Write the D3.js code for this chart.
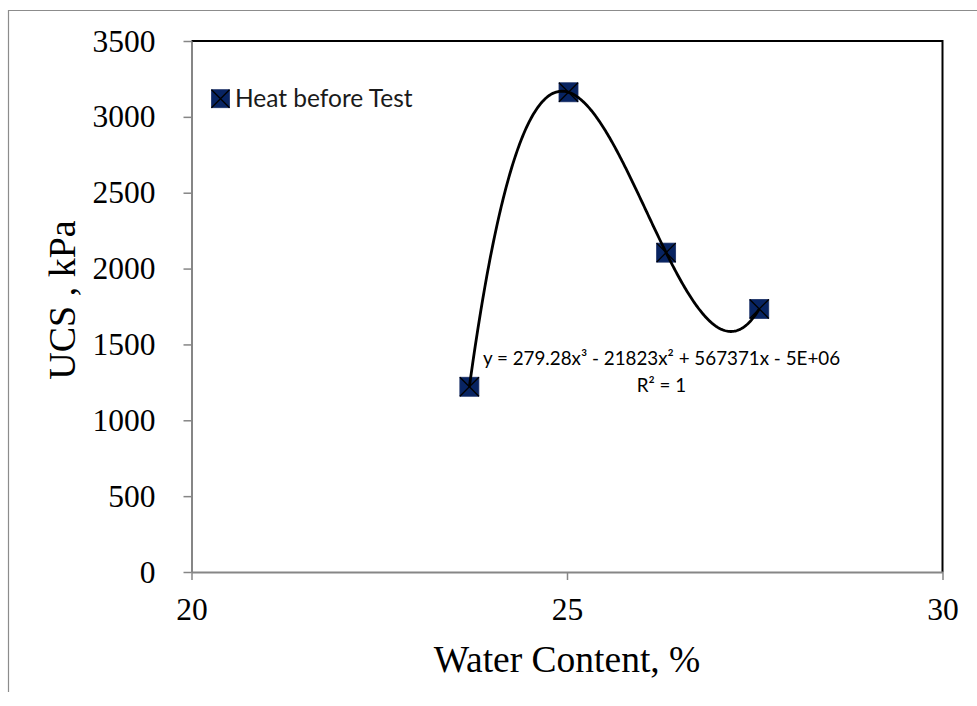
<!DOCTYPE html>
<html>
<head>
<meta charset="utf-8">
<script src="https://cdn.jsdelivr.net/npm/d3@7"></script>
<style>
  html, body { margin: 0; padding: 0; background: #fff; }
  svg { display: block; }
</style>
</head>
<body>
<svg id="chart" width="977" height="706"></svg>
<script>
// Water content (%) and unconfined compressive strength (kPa)
const waterContent = [23.70, 25.02, 26.32, 27.56];
const ucsValues    = [1221, 3162, 2105, 1734];
const seriesName   = "Heat before Test";

const xTicks = [20, 25, 30];
const yTicks = [0, 500, 1000, 1500, 2000, 2500, 3000, 3500];

const xTitle = "Water Content, %";
const yTitle = "UCS , kPa";
const equationText = "y = 279.28x³ - 21823x² + 567371x - 5E+06";
const rSquaredText = "R² = 1";

const svg = d3.select("#chart");
const W = 977, H = 706;

// plot area
const plotLeft = 191.5, plotRight = 942.5, plotTop = 41, plotBottom = 572;

const x = d3.scaleLinear().domain([20, 30]).range([plotLeft, plotRight]);
const y = d3.scaleLinear().domain([0, 3500]).range([plotBottom, plotTop]);

// outer chart frame (left and top edges visible)
svg.append("path")
  .attr("d", `M8.5,692 L8.5,10.5 L${W},10.5`)
  .attr("fill", "none")
  .attr("stroke", "#8c8c8c")
  .attr("stroke-width", 1.2);

// plot area border: top and right in black
svg.append("path")
  .attr("d", `M${plotLeft},${plotTop} L${plotRight},${plotTop} L${plotRight},${plotBottom}`)
  .attr("fill", "none")
  .attr("stroke", "#000")
  .attr("stroke-width", 2);

const serif = "'Liberation Serif', 'Times New Roman', serif";
const sans = "Lato, 'Open Sans', sans-serif";

// y axis
const yAxis = svg.append("g")
  .attr("transform", `translate(${plotLeft},0)`)
  .call(d3.axisLeft(y).tickValues(yTicks).tickSize(8).tickSizeOuter(0).tickPadding(28).tickFormat(d3.format("d")));

// x axis
const xAxis = svg.append("g")
  .attr("transform", `translate(0,${plotBottom})`)
  .call(d3.axisBottom(x).tickValues(xTicks).tickSize(8).tickSizeOuter(0).tickPadding(18).tickFormat(d3.format("d")));

[yAxis, xAxis].forEach(g => {
  g.select(".domain").attr("stroke", "#868686").attr("stroke-width", 2);
  g.selectAll(".tick line").attr("stroke", "#868686").attr("stroke-width", 1.5);
  g.selectAll(".tick text")
    .attr("fill", "#000")
    .style("font-family", serif)
    .style("font-size", "31.5px");
});

// axis titles
svg.append("text")
  .attr("x", (plotLeft + plotRight) / 2)
  .attr("y", 672)
  .attr("text-anchor", "middle")
  .style("font-family", serif)
  .style("font-size", "37.5px")
  .text(xTitle);

svg.append("text")
  .attr("transform", `translate(75,300) rotate(-90)`)
  .attr("text-anchor", "middle")
  .style("font-family", serif)
  .style("font-size", "38px")
  .text(yTitle);

// cubic polynomial trendline (least squares)
function polyfit(xs, ys, degree) {
  const mx = d3.mean(xs);
  const n = degree + 1;
  const A = Array.from({length: n}, () => new Array(n).fill(0));
  const b = new Array(n).fill(0);
  xs.forEach((xv, i) => {
    const t = xv - mx;
    for (let r = 0; r < n; r++) {
      b[r] += Math.pow(t, r) * ys[i];
      for (let c = 0; c < n; c++) A[r][c] += Math.pow(t, r + c);
    }
  });
  // Gaussian elimination
  for (let k = 0; k < n; k++) {
    let p = k;
    for (let r = k + 1; r < n; r++) if (Math.abs(A[r][k]) > Math.abs(A[p][k])) p = r;
    [A[k], A[p]] = [A[p], A[k]]; [b[k], b[p]] = [b[p], b[k]];
    for (let r = k + 1; r < n; r++) {
      const f = A[r][k] / A[k][k];
      for (let c = k; c < n; c++) A[r][c] -= f * A[k][c];
      b[r] -= f * b[k];
    }
  }
  const coef = new Array(n).fill(0);
  for (let k = n - 1; k >= 0; k--) {
    let s = b[k];
    for (let c = k + 1; c < n; c++) s -= A[k][c] * coef[c];
    coef[k] = s / A[k][k];
  }
  return xv => coef.reduce((acc, c, i) => acc + c * Math.pow(xv - mx, i), 0);
}

const fit = polyfit(waterContent, ucsValues, 3);
const xMin = d3.min(waterContent), xMax = d3.max(waterContent);
const curvePts = d3.range(0, 301).map(i => {
  const xv = xMin + (xMax - xMin) * i / 300;
  return [xv, fit(xv)];
});

// markers
const markerSize = 19;
const pts = svg.append("g").selectAll("g")
  .data(waterContent.map((w, i) => ({w, u: ucsValues[i]})))
  .join("g")
  .attr("transform", d => `translate(${x(d.w)},${y(d.u)})`);

function drawMarker(sel, s) {
  sel.append("rect")
    .attr("x", -s / 2).attr("y", -s / 2)
    .attr("width", s).attr("height", s)
    .attr("fill", "#082462")
    .attr("stroke", "#1a2f66")
    .attr("stroke-width", 0.8);
  sel.append("path")
    .attr("d", `M${-s/2},${-s/2} L${s/2},${s/2} M${s/2},${-s/2} L${-s/2},${s/2}`)
    .attr("stroke", "#000")
    .attr("stroke-width", 1.3);
}
drawMarker(pts, markerSize);

svg.append("path")
  .datum(curvePts)
  .attr("fill", "none")
  .attr("stroke", "#000")
  .attr("stroke-width", 2.8)
  .attr("d", d3.line().x(d => x(d[0])).y(d => y(d[1])));

// trendline equation
svg.append("text")
  .attr("x", 661.5).attr("y", 365)
  .attr("text-anchor", "middle")
  .style("font-family", sans)
  .style("font-size", "18.8px")
  .text(equationText);
svg.append("text")
  .attr("x", 661.5).attr("y", 391.5)
  .attr("text-anchor", "middle")
  .style("font-family", sans)
  .style("font-size", "18.8px")
  .text(rSquaredText);

// legend
const legend = svg.append("g").attr("transform", "translate(220.5,98.7)");
drawMarker(legend, 18);
legend.append("text")
  .attr("x", 14.5).attr("y", 8.3)
  .style("font-family", sans)
  .style("font-size", "24.5px")
  .attr("fill", "#1a1a1a")
  .text(seriesName);
</script>
</body>
</html>
